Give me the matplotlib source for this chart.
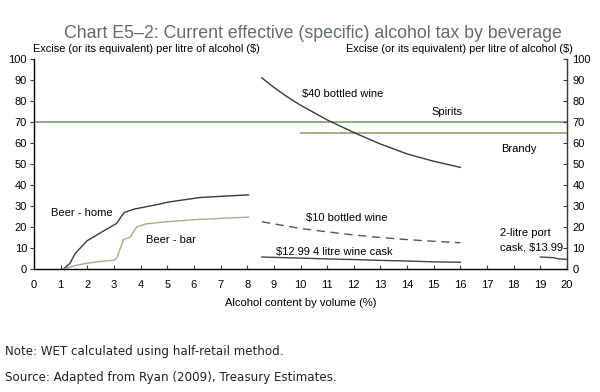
import matplotlib
matplotlib.use("Agg")
import matplotlib.pyplot as plt

# ---- data ----
spirits_x = [0, 20]
spirits_y = [70, 70]
brandy_x = [10, 20]
brandy_y = [65, 65]
wine40_x = [8.55, 9.0, 9.5, 10.0, 11.0, 12.0, 13.0, 14.0, 15.0, 16.0]
wine40_y = [91, 86.5, 82, 78, 71, 65, 59.5, 54.8, 51.3, 48.4]
wine10_x = [8.55, 9, 10, 11, 12, 13, 14, 15, 16]
wine10_y = [22.5, 21.5, 19.3, 17.7, 16.2, 15.0, 14.0, 13.2, 12.5]
cask_x = [8.55, 10, 11, 12, 13, 14, 15, 16]
cask_y = [5.7, 5.2, 4.8, 4.5, 4.1, 3.8, 3.4, 3.2]
port_x = [19.0, 19.5, 19.7, 20.0]
port_y = [5.7, 5.4, 4.8, 4.6]
beer_home_x = [1.1, 1.35, 1.55, 2.0, 2.5, 3.1, 3.3, 3.4, 3.75, 4.75, 5.0, 6.2, 7.0, 8.05]
beer_home_y = [0, 2.7, 7.5, 13.5, 17.3, 21.7, 25.5, 27, 28.5, 31, 31.8, 34, 34.6, 35.3]
beer_bar_x = [1.1, 1.5, 2.0, 2.5, 3.0, 3.1, 3.3, 3.35, 3.6, 3.85, 4.2, 5.0, 6.0, 7.0, 8.05]
beer_bar_y = [0, 1.5, 2.8, 3.6, 4.2, 5.0, 12, 14, 15, 20, 21.5, 22.5, 23.5, 24.1, 24.7]
x_ticks = list(range(0, 21))
y_ticks = list(range(0, 101, 10))

plt.rcParams['font.family'] = ['Liberation Sans', 'DejaVu Sans']

fig = plt.figure(figsize=(6.0, 3.92), dpi=100)
ax = fig.add_axes([34/600, 1-269/392, (567-34)/600, (269-59)/392])

dark = '#3a3a3a'
ax.plot(spirits_x, spirits_y, color='#6a9a5e', lw=1.1)
ax.plot(brandy_x, brandy_y, color='#8c9a5c', lw=1.1)
ax.plot(wine40_x, wine40_y, color=dark, lw=1.0)
ax.plot(wine10_x, wine10_y, color='#555555', lw=1.0, dashes=(6, 4))
ax.plot(cask_x, cask_y, color='#444444', lw=1.0)
ax.plot(port_x, port_y, color='#444444', lw=1.0)
ax.plot(beer_home_x, beer_home_y, color=dark, lw=1.0)
ax.plot(beer_bar_x, beer_bar_y, color='#a9aa82', lw=1.0)

ax.set_xlim(0, 20)
ax.set_ylim(0, 100)
ax.set_xticks(x_ticks)
ax.set_yticks(y_ticks)
ax.tick_params(axis='x', direction='in', length=3, labelsize=8, pad=8, color=dark)
ax.tick_params(axis='y', direction='out', length=3, labelsize=8, pad=2, color=dark)
ax.spines['top'].set_visible(False)
for s in ['left', 'bottom', 'right']:
    ax.spines[s].set_color(dark)
    ax.spines[s].set_linewidth(1.0)

ax2 = ax.twinx()
ax2.set_ylim(0, 100)
ax2.set_yticks(y_ticks)
ax2.tick_params(axis='y', direction='in', length=3, labelsize=8, pad=4, color=dark)
ax2.spines['top'].set_visible(False)
ax2.spines['right'].set_color(dark)

fs = 8
ax.text(10.05, 83.3, '$40 bottled wine', fontsize=fs, va='center', ha='left')
ax.text(15.5, 74.6, 'Spirits', fontsize=fs, va='center', ha='center')
ax.text(18.2, 57, 'Brandy', fontsize=fs, va='center', ha='center')
ax.text(10.2, 24.3, '$10 bottled wine', fontsize=fs, va='center', ha='left')
ax.text(9.08, 8.3, '$12.99 4 litre wine cask', fontsize=fs, va='center', ha='left')
ax.text(17.5, 17.1, '2-litre port', fontsize=fs, va='center', ha='left')
ax.text(17.5, 10.0, 'cask, $13.99', fontsize=fs, va='center', ha='left')
ax.text(0.63, 26.5, 'Beer - home', fontsize=fs, va='center', ha='left')
ax.text(4.2, 13.8, 'Beer - bar', fontsize=fs, va='center', ha='left')

ax.set_xlabel('Alcohol content by volume (%)', fontsize=fs, labelpad=6)

fig.text(313/600, 1-33/392, 'Chart E5\u20132: Current effective (specific) alcohol tax by beverage',
         fontsize=12.8, color='#5f6f5f', ha='center', va='center')
fig.text(33/600, 1-49/392, 'Excise (or its equivalent) per litre of alcohol ($)',
         fontsize=7.9, ha='left', va='center')
fig.text(573/600, 1-49/392, 'Excise (or its equivalent) per litre of alcohol ($)',
         fontsize=7.9, ha='right', va='center')
fig.text(5/600, 1-351/392, 'Note: WET calculated using half-retail method.',
         fontsize=8.6, ha='left', va='center', family='DejaVu Sans', color='#222222')
fig.text(5/600, 1-377/392, 'Source: Adapted from Ryan (2009), Treasury Estimates.',
         fontsize=8.6, ha='left', va='center', family='DejaVu Sans', color='#222222')

fig.savefig('out.png', dpi=100)
